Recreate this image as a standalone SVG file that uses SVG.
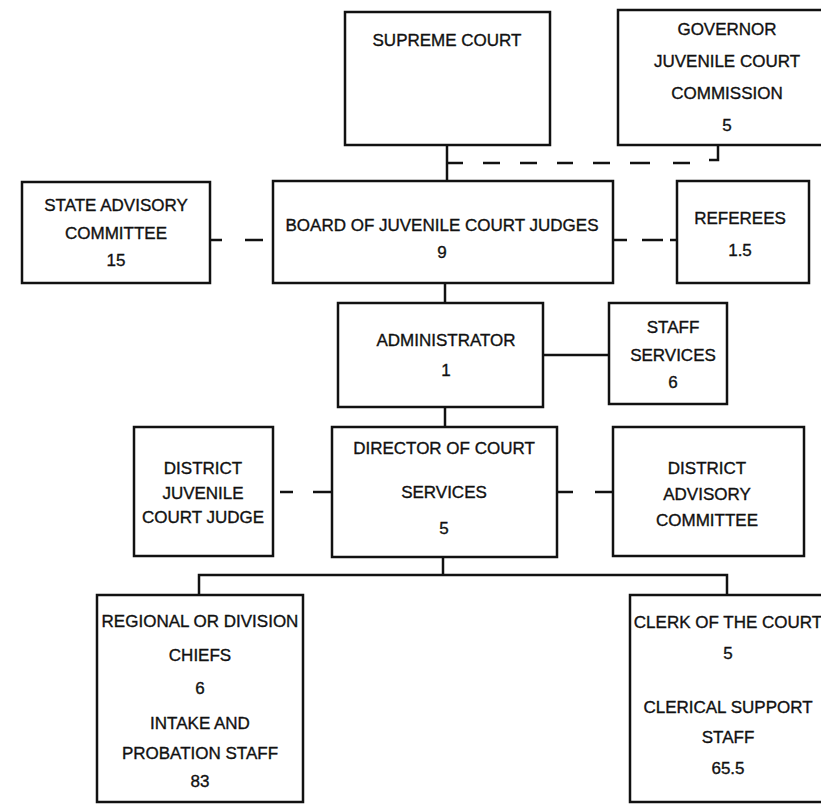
<svg xmlns="http://www.w3.org/2000/svg" width="821" height="804" viewBox="0 0 821 804">
<style>
.box{fill:none;stroke:#111;stroke-width:2.5}
line,path{stroke:#111;stroke-width:2.5;fill:none}
text{font-family:"Liberation Sans",Arial,sans-serif;font-size:17px;fill:#111;stroke:#111;stroke-width:0.35;text-anchor:middle;dominant-baseline:central}
</style>
<rect width="821" height="804" style="fill:#fff;stroke:none"/>
<g id="connectors">
<line x1="447" y1="145" x2="447" y2="181"/>
<line x1="448" y1="163" x2="463" y2="163"/>
<line x1="483" y1="163" x2="500" y2="163"/>
<line x1="520" y1="163" x2="537" y2="163"/>
<line x1="557" y1="163" x2="573" y2="163"/>
<line x1="593" y1="163" x2="610" y2="163"/>
<line x1="630" y1="163" x2="650" y2="163"/>
<line x1="673" y1="163" x2="690" y2="163"/>
<path d="M709 160 L718 160 L718 146"/>
<line x1="210" y1="240" x2="222" y2="240"/>
<line x1="245" y1="240" x2="263" y2="240"/>
<line x1="613" y1="240" x2="627" y2="240"/>
<line x1="642" y1="240" x2="663" y2="240"/>
<line x1="670" y1="240" x2="677" y2="240"/>
<line x1="445" y1="283" x2="445" y2="303"/>
<line x1="543" y1="355" x2="609" y2="355"/>
<line x1="445" y1="407" x2="445" y2="427"/>
<line x1="280" y1="492" x2="293" y2="492"/>
<line x1="313" y1="492" x2="332" y2="492"/>
<line x1="557" y1="492" x2="573" y2="492"/>
<line x1="595" y1="492" x2="613" y2="492"/>
<line x1="443" y1="557" x2="443" y2="575"/>
<path d="M199 595 L199 575 L727 575 L727 595"/>
</g>
<g id="supreme-court">
<rect class="box" x="345" y="12" width="205" height="133"/>
<text x="447" y="40">SUPREME COURT</text>
</g>
<g id="governor-commission">
<rect class="box" x="618" y="10" width="206" height="135"/>
<text x="727" y="29">GOVERNOR</text>
<text x="727" y="61">JUVENILE COURT</text>
<text x="727" y="93">COMMISSION</text>
<text x="727" y="125">5</text>
</g>
<g id="state-advisory">
<rect class="box" x="22" y="182" width="188" height="101"/>
<text x="116" y="205">STATE ADVISORY</text>
<text x="116" y="233">COMMITTEE</text>
<text x="116" y="260">15</text>
</g>
<g id="board">
<rect class="box" x="273" y="181" width="340" height="102"/>
<text x="442" y="225">BOARD OF JUVENILE COURT JUDGES</text>
<text x="442" y="252">9</text>
</g>
<g id="referees">
<rect class="box" x="677" y="181" width="132" height="102"/>
<text x="740" y="218">REFEREES</text>
<text x="740" y="250">1.5</text>
</g>
<g id="administrator">
<rect class="box" x="338" y="303" width="205" height="104"/>
<text x="446" y="340">ADMINISTRATOR</text>
<text x="446" y="370">1</text>
</g>
<g id="staff-services">
<rect class="box" x="609" y="303" width="118" height="101"/>
<text x="673" y="327">STAFF</text>
<text x="673" y="355">SERVICES</text>
<text x="673" y="382">6</text>
</g>
<g id="director">
<rect class="box" x="332" y="427" width="225" height="130"/>
<text x="444" y="448">DIRECTOR OF COURT</text>
<text x="444" y="492">SERVICES</text>
<text x="444" y="528">5</text>
</g>
<g id="district-judge">
<rect class="box" x="134" y="427" width="139" height="129"/>
<text x="203" y="468">DISTRICT</text>
<text x="203" y="493">JUVENILE</text>
<text x="203" y="517">COURT JUDGE</text>
</g>
<g id="district-advisory">
<rect class="box" x="613" y="427" width="191" height="129"/>
<text x="707" y="468">DISTRICT</text>
<text x="707" y="494">ADVISORY</text>
<text x="707" y="520">COMMITTEE</text>
</g>
<g id="regional-chiefs">
<rect class="box" x="97" y="595" width="206" height="207"/>
<text x="200" y="621">REGIONAL OR DIVISION</text>
<text x="200" y="655">CHIEFS</text>
<text x="200" y="688">6</text>
<text x="200" y="723">INTAKE AND</text>
<text x="200" y="753">PROBATION STAFF</text>
<text x="200" y="781">83</text>
</g>
<g id="clerk">
<rect class="box" x="630" y="595" width="195" height="207"/>
<text x="728" y="622">CLERK OF THE COURT</text>
<text x="728" y="653">5</text>
<text x="728" y="707">CLERICAL SUPPORT</text>
<text x="728" y="737">STAFF</text>
<text x="728" y="768">65.5</text>
</g>
</svg>
